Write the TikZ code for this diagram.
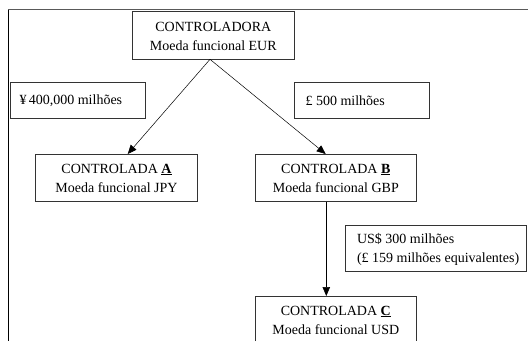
\documentclass[tikz,border=0pt]{standalone}
\usepackage{fontspec}
\setmainfont{Liberation Serif}
\usetikzlibrary{arrows.meta}
\begin{document}
\begin{tikzpicture}[x=1pt,y=-1pt,
  box/.style={draw=black!80,line width=0.7pt,inner sep=0pt},
  ent/.style={align=center,font=\fontsize{14}{19}\selectfont},
  lab/.style={align=left,font=\fontsize{14}{19}\selectfont,anchor=west},
  arr/.style={draw,line width=0.5pt,-{Triangle[length=9pt,width=7.5pt]}}]
\useasboundingbox (0,0) rectangle (528,341);
% frame
\draw[line width=1.3pt,black!65] (8,9.5) -- (528,9.5);
\draw[line width=0.8pt] (8.3,9.5) -- (8.3,341);
% entity boxes
\draw[box] (132.7,11.7) rectangle (294,59.3);
\node[ent] (p) at (213.3,36) {CONTROLADORA\\Moeda funcional EUR};
\draw[box] (35.7,154) rectangle (197.3,201.7);
\node[ent] (a) at (116.5,178) {CONTROLADA \underline{\textbf{A}}\\Moeda funcional JPY};
\draw[box] (255,154) rectangle (416.7,201.7);
\node[ent] (b) at (335.8,178) {CONTROLADA \underline{\textbf{B}}\\Moeda funcional GBP};
\draw[box] (255,341) -- (255,296) -- (416.7,296) -- (416.7,341);
\node[ent] (c) at (335.8,320) {CONTROLADA \underline{\textbf{C}}\\Moeda funcional USD};
% label boxes
\draw[box] (10,82.7) rectangle (145.7,118.3);
\node[lab] (ly) at (16,100.5) {¥\,400,000 milhões};
\draw[box] (294,82.7) rectangle (429.7,118.3);
\node[lab] (lp) at (302,100.5) {£ 500 milhões};
\draw[box] (345.7,225) rectangle (526,271.7);
\node[lab] (lu) at (353.5,249) {US\$ 300 milhões\\(£ 159 milhões equivalentes)};
% connectors
\coordinate (pb) at (210,59.3);
\coordinate (at) at (127.7,154);
\coordinate (bt) at (325.7,154);
\coordinate (bb) at (326.3,201.7);
\coordinate (ct) at (326.3,296);
\draw[arr] (pb) -- (at);
\draw[arr] (pb) -- (bt);
\draw[arr] (bb) -- (ct);
\end{tikzpicture}
\end{document}
